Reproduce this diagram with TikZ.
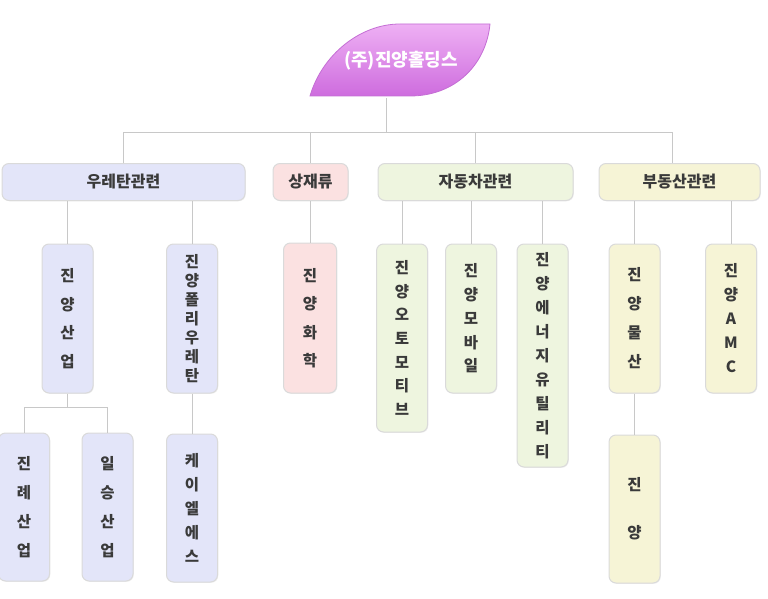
\documentclass[tikz,border=0pt]{standalone}
\usepackage{fontspec}
\setmainfont{Noto Sans CJK KR}
\usetikzlibrary{shadows}
\definecolor{lineg}{HTML}{C8C8C8}
\definecolor{txt}{HTML}{3A3A3A}
\definecolor{lav}{HTML}{E3E5F9}
\definecolor{pnk}{HTML}{FBE1E1}
\definecolor{grn}{HTML}{EEF5DF}
\definecolor{yel}{HTML}{F6F4D6}
\definecolor{bord}{HTML}{DADADA}
\newcommand\vsk[1]{\fontsize{15.5}{#1}\selectfont\bfseries}
\begin{document}
\begin{tikzpicture}[x=1pt,y=-1pt,
  conn/.style={draw=lineg, line width=1pt},
  boxbase/.style={draw=bord, line width=1pt, rounded corners=7pt, inner sep=0pt, text=txt,
     drop shadow={opacity=0.12, shadow xshift=0.8pt, shadow yshift=-0.8pt}},
  catbox/.style={boxbase, minimum height=37pt, font=\fontsize{16}{18}\selectfont\bfseries},
  kid/.style={boxbase, minimum width=51pt, align=center}
]
\useasboundingbox (0,0) rectangle (768,599);
% top leaf shape
\shade[top color={rgb,255:red,238;green,176;blue,244}, bottom color={rgb,255:red,206;green,108;blue,222},
   draw={rgb,255:red,196;green,110;blue,212}, line width=0.8pt]
  (310,96) -- (410,96) .. controls (455,96) and (486,65) .. (490,24)
  -- (400,24) .. controls (360,24) and (322,55) .. (310,96) -- cycle;
\node[minimum width=180pt, minimum height=74pt, inner sep=0pt, text=white,
      font=\fontsize{18}{20}\selectfont\bfseries] (hold) at (401,61) {(주)진양홀딩스};
\coordinate (bus) at (386,133);

% categories
\node[catbox, fill=lav, minimum width=243pt] (c1) at (123.5,182) {우레탄관련};
\node[catbox, fill=pnk, minimum width=75pt] (c2) at (310.5,182) {상재류};
\node[catbox, fill=grn, minimum width=195pt] (c3) at (475.5,182) {자동차관련};
\node[catbox, fill=yel, minimum width=161pt] (c4) at (679.5,182) {부동산관련};

% children
\node[kid, fill=lav, minimum height=149pt, font=\vsk{28.5}] (k11) at (67.5,318.5) {진\\양\\산\\업};
\node[kid, fill=lav, minimum height=149pt, font=\vsk{19}] (k12) at (192,318.5) {진\\양\\폴\\리\\우\\레\\탄};
\node[kid, fill=pnk, minimum height=150pt, minimum width=53pt, font=\vsk{28.5}] (k21) at (310,318) {진\\양\\화\\학};
\node[kid, fill=grn, minimum height=188pt, font=\vsk{23.7}] (k31) at (402,338) {진\\양\\오\\토\\모\\티\\브};
\node[kid, fill=grn, minimum height=149pt, font=\vsk{23.7}] (k32) at (471,318.5) {진\\양\\모\\바\\일};
\node[kid, fill=grn, minimum height=223pt, font=\vsk{24}] (k33) at (542.5,355.5) {진\\양\\에\\너\\지\\유\\틸\\리\\티};
\node[kid, fill=yel, minimum height=149pt, font=\vsk{29}] (k41) at (634.5,318.5) {진\\양\\물\\산};
\node[kid, fill=yel, minimum height=149pt, font=\vsk{24}] (k42) at (731,318.5) {진\\양\\A\\M\\C};

\node[kid, fill=lav, minimum height=148pt, font=\vsk{29}] (g1) at (24,507) {진\\례\\산\\업};
\node[kid, fill=lav, minimum height=148pt, font=\vsk{29}] (g2) at (107.5,507) {일\\승\\산\\업};
\node[kid, fill=lav, minimum height=148pt, font=\vsk{24}] (g3) at (192,508) {케\\이\\엘\\에\\스};
\node[kid, fill=yel, minimum height=148pt, font=\vsk{48}] (g4) at (634.5,509) {진\\양};

% connectors
\draw[conn] ([xshift=-15pt]hold.south) -- (bus);
\draw[conn] (c1.north) |- (bus);
\draw[conn] (c2.north) |- (bus);
\draw[conn] (c3.north) |- (bus);
\draw[conn] ([xshift=-7.5pt]c4.north) |- (bus);

\draw[conn] (k11.north) -- (k11.north |- c1.south);
\draw[conn] (k12.north) -- (k12.north |- c1.south);
\draw[conn] (k21.north) -- (k21.north |- c2.south);
\draw[conn] (k31.north) -- (k31.north |- c3.south);
\draw[conn] (k32.north) -- (k32.north |- c3.south);
\draw[conn] (k33.north) -- (k33.north |- c3.south);
\draw[conn] (k41.north) -- (k41.north |- c4.south);
\draw[conn] (k42.north) -- (k42.north |- c4.south);

\coordinate (j1) at (67.5,407);
\draw[conn] (k11.south) -- (j1);
\draw[conn] (g1.north) |- (j1);
\draw[conn] (g2.north) |- (j1);
\draw[conn] (k12.south) -- (g3.north);
\draw[conn] (k41.south) -- (g4.north);
\end{tikzpicture}
\end{document}
